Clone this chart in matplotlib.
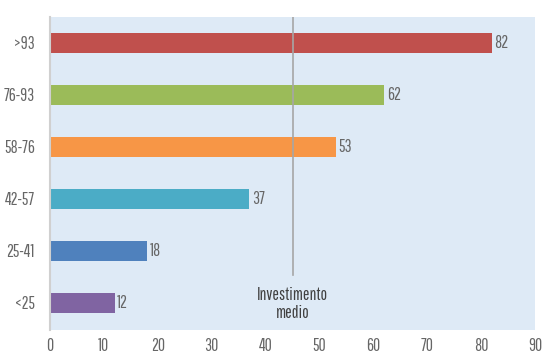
import matplotlib
matplotlib.use("Agg")
import matplotlib.pyplot as plt

plt.rcParams["font.family"] = ["Pathway Gothic One", "Barlow Condensed", "DejaVu Sans"]

categories = ["<25", "25-41", "42-57", "58-76", "76-93", ">93"]
values = [12, 18, 37, 53, 62, 82]
colors = ["#8064a2", "#4f81bd", "#4bacc6", "#f79646", "#9bbb59", "#c0504d"]
average = 45
xticks = [0, 10, 20, 30, 40, 50, 60, 70, 80, 90]

text_color = "#666666"
fs = 12.5

fig = plt.figure(figsize=(5.42, 3.54), dpi=100)
ax = fig.add_axes([50 / 542, 1 - 330 / 354, 485 / 542, 313 / 354])
ax.set_facecolor("#deeaf6")

y = list(range(len(categories)))
ax.barh(y, values, height=0.4, color=colors, zorder=2)
for yi, v in zip(y, values):
    ax.text(v + 0.5, yi, str(v), va="center", ha="left", fontsize=fs, color=text_color)

ax.plot([average, average], [0.54, 5.5], color="#a6a6a6", lw=1.2, zorder=3)
ax.text(average, 0.3, "Investimento\nmedio", ha="center", va="top", fontsize=fs,
        color="#404040", linespacing=1.15)

ax.set_xlim(0, 90)
ax.set_ylim(-0.52, 5.5)
ax.set_xticks(xticks)
ax.set_yticks(y)
ax.set_yticklabels(categories)
ax.tick_params(axis="y", length=0, labelsize=fs, colors=text_color, pad=11)
ax.tick_params(axis="x", length=0, labelsize=fs, colors=text_color, pad=6)
for s in ["top", "right", "bottom"]:
    ax.spines[s].set_visible(False)
ax.spines["left"].set_color("#d0d0d0")
ax.spines["left"].set_linewidth(1.5)

fig.savefig("out.png", dpi=100)
